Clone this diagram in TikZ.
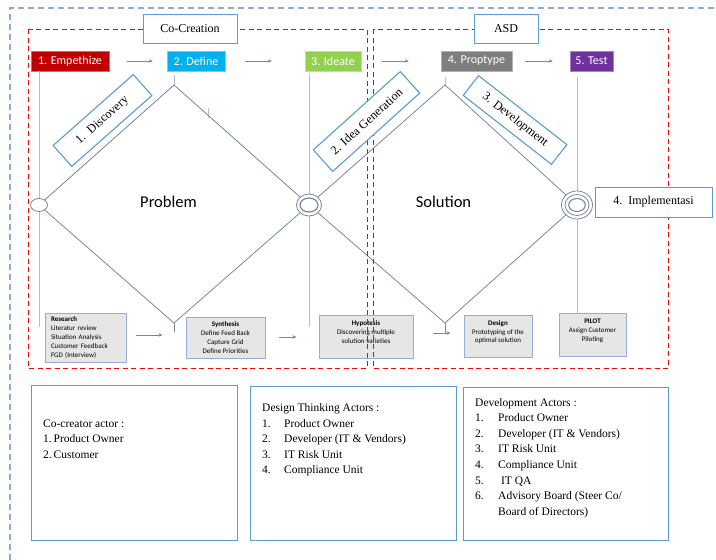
\documentclass[tikz,border=0pt]{standalone}
\usepackage{fontspec}
\setmainfont{Liberation Serif}
\newfontfamily\calfont{Carlito}
\usetikzlibrary{arrows.meta}
\definecolor{boxblue}{HTML}{5B9BD5}
\definecolor{outerblue}{HTML}{8FAADC}
\definecolor{vlinecol}{HTML}{A9C0E4}
\definecolor{dlinecol}{HTML}{7A879E}
\definecolor{arrowblue}{HTML}{5A8AD2}
\definecolor{empred}{HTML}{C00000}
\definecolor{defcyan}{HTML}{00B0F0}
\definecolor{idegreen}{HTML}{92D050}
\definecolor{protgray}{HTML}{7F7F7F}
\definecolor{testpurple}{HTML}{7030A0}
\definecolor{grayfill}{HTML}{E6E6E6}
\definecolor{grayborder}{HTML}{94ADD9}
\begin{document}
\begin{tikzpicture}[x=1pt,y=-1pt,
  phasebox/.style={draw=#1!60!white, fill=#1, text=white, font=\calfont\fontsize{12}{14}\selectfont, inner sep=0pt, minimum height=20pt},
  titlebox/.style={draw=boxblue, fill=white, line width=1pt, inner sep=0pt, minimum height=29pt, font=\fontsize{12}{14}\selectfont},
  rotbox/.style={draw=boxblue, fill=white, line width=1.1pt, inner sep=0pt, font=\fontsize{12.3}{14}\selectfont},
  graybox/.style={draw=grayborder, fill=grayfill, line width=1pt, inner sep=0pt, align=center, font=\calfont\fontsize{7}{8.8}\selectfont},
  actorbox/.style={draw=boxblue, line width=1pt, inner sep=0pt},
  actortext/.style={anchor=base west, inner sep=0pt, align=left, font=\fontsize{11.5}{15.6}\selectfont},
  arr/.style={draw=arrowblue, line width=0.9pt, -{Stealth[length=4pt,width=3.5pt]}},
  vl/.style={draw=vlinecol, line width=0.9pt},
  diam/.style={draw=dlinecol, line width=0.8pt},
  ring/.style={draw=dlinecol, line width=0.8pt, fill=white},
  reddash/.style={draw=red, line width=1pt, dash pattern=on 5pt off 3.5pt},
  outerdash/.style={draw=outerblue, line width=1.4pt, dash pattern=on 6pt off 4pt}
]
\useasboundingbox (0,0) rectangle (716,560);
% outer dashed frame
\coordinate (oa) at (10,560);
\coordinate (ob) at (10,8);
\coordinate (oc) at (716,8);
\draw[outerdash] (oa) -- (ob) -- (oc);

% phase boxes
\node[phasebox=empred, minimum width=78pt] (emp) at (70,61) {1. Empethize};
\node[phasebox=defcyan, minimum width=58pt] (def) at (196,61) {2. Define};
\node[phasebox=idegreen, minimum width=56pt] (ide) at (333,61) {3. Ideate};
\node[phasebox=protgray, minimum width=71pt] (pro) at (476.5,61) {4. Proptype};
\node[phasebox=testpurple, minimum width=43pt] (tst) at (591.5,61) {5. Test};

\draw[arr, shorten <=18pt, shorten >=14pt] (emp.east) -- (def.west);
\draw[arr, shorten <=20pt, shorten >=33pt] (def.east) -- (ide.west);
\draw[arr, shorten <=21pt, shorten >=32pt] (ide.east) -- (pro.west);
\draw[arr, shorten <=13pt, shorten >=17pt] (pro.east) -- (tst.west);

% diamond corners
\coordinate (d1t) at (174,85);
\coordinate (d1b) at (174,323);
\coordinate (d1l) at (39,205);
\coordinate (d1r) at (309,205);
\coordinate (d2t) at (445,85);
\coordinate (d2b) at (445,323);
\coordinate (d2r) at (577,205);
\coordinate (e1) at (39,327);
\coordinate (e2) at (309,327);
\coordinate (t1) at (174,332);
\coordinate (t2) at (445,333);
\coordinate (k1) at (208,108);
\coordinate (k2) at (208,118);

% gray boxes
\node[graybox, text width=69pt, align=left, inner xsep=6pt, minimum height=49pt] (res) at (85.5,337.5)
  {\textbf{Research}\\Literatur review\\Situation Analysis\\Customer Feedback\\FGD (Interview)};
\node[graybox, minimum width=79pt, minimum height=41pt] (syn) at (225.5,337.5)
  {\textbf{Synthesis}\\Define Feed Back\\Capture Grid\\Define Priorities};
\node[graybox, minimum width=94pt, minimum height=43pt] (hyp) at (366,336.5)
  {\textbf{Hypotesis}\\Discovering multiple\\solution varieties\\~};
\node[graybox, minimum width=68pt, minimum height=42pt] (des) at (498,336)
  {\textbf{Design}\\Prototyping of the\\optimal solution\\~};
\node[graybox, minimum width=67pt, minimum height=43pt] (pil) at (592.5,334.5)
  {\textbf{PILOT}\\Assign Customer\\Piloting\\~};

% vertical lines
\draw[vl] (emp.south -| d1l) -- (e1);
\draw[vl] ([yshift=-4pt]def.south -| d1t) -- (d1t);
\draw[vl] ([yshift=-2pt]ide.south -| d1r) -- (e2);
\draw[vl] ([yshift=-6pt]pro.south -| d2t) -- (d2t);
\draw[vl] ([yshift=-6pt]tst.south -| d2r) -- (pil.north -| d2r);
\draw[vl] (k1) -- (k2);

% diamonds
\draw[diam] (d1l) -- (d1t) -- (d1r) -- (d1b) -- cycle;
\draw[diam] (d1r) -- (d2t) -- (d2r) -- (d2b) -- cycle;
\draw[diam] (d1b) -- (t1);
\draw[diam] (d2b) -- (t2);

% rings
\draw[ring] (d1l) ellipse [x radius=8.5, y radius=6.5];
\draw[ring] (d1r) ellipse [x radius=12.5, y radius=11];
\draw[ring, line width=1.2pt] (d1r) ellipse [x radius=9, y radius=7];
\draw[ring] (d2r) ellipse [x radius=15.5, y radius=14];
\draw[ring] (d2r) ellipse [x radius=12, y radius=10.5];
\draw[ring, line width=1.1pt] (d2r) ellipse [x radius=8.3, y radius=6.5];

\node[font=\calfont\fontsize{16.5}{18}\selectfont, inner sep=0pt] (prob) at (168.5,201.5) {Problem};
\node[font=\calfont\fontsize{16.5}{18}\selectfont, inner sep=0pt] (sol) at (443.5,201.5) {Solution};

% gray box arrows
\draw[arr, shorten <=9pt, shorten >=23pt] ([yshift=2.5pt]res.east) -- ([yshift=2.5pt]res.east -| syn.west);
\draw[arr, shorten <=13pt, shorten >=22pt] ([yshift=0.5pt]syn.east) -- ([yshift=0.5pt]syn.east -| hyp.west);
\draw[arr, shorten <=19pt, shorten >=13pt] ([yshift=3.5pt]hyp.east) -- ([yshift=3.5pt]hyp.east -| des.west);

% red dashed frames
\coordinate (r1a) at (28,29);
\coordinate (r1b) at (367,368);
\coordinate (r2a) at (373,29);
\coordinate (r2b) at (668,368);
\draw[reddash] (r1a) rectangle (r1b);
\draw[reddash] (r2a) rectangle (r2b);

% title boxes
\node[titlebox, minimum width=94pt] (cocr) at (190,28.5) {Co-Creation};
\node[titlebox, minimum width=64pt] (asd) at (506,28.5) {ASD};

% rotated labels
\node[rotbox, minimum width=107pt, minimum height=28pt, rotate=41.5] (disc) at (102.5,120.5) {1.\ \ Discovery};
\node[rotbox, minimum width=117pt, minimum height=29pt, rotate=42] (idea) at (366.5,121.5) {2. Idea Generation};
\node[rotbox, minimum width=112pt, minimum height=25pt, rotate=-38] (devl) at (515,120) {3. Development};
\node[titlebox, minimum width=117pt, minimum height=30pt] (impl) at (653.5,202) {4.\ \ Implementasi};

% actor boxes
\node[actorbox, minimum width=206pt, minimum height=155pt] (cc) at (134,462.5) {};
\node[actorbox, minimum width=206pt, minimum height=154pt] (dt) at (353,463) {};
\node[actorbox, minimum width=205pt, minimum height=153pt] (da) at (565.5,463.5) {};

% anchor = baseline of the last line
\node[actortext, font=\fontsize{11.5}{15.8}\selectfont] (cctext) at (43,458.6)
  {Co-creator actor :\\1.\,Product Owner\\2.\,Customer};
\node[actortext] (dttext) at (262,473.9)
  {Design Thinking Actors :\\
   \makebox[22pt][l]{1.}Product Owner\\
   \makebox[22pt][l]{2.}Developer (IT \& Vendors)\\
   \makebox[22pt][l]{3.}IT Risk Unit\\
   \makebox[22pt][l]{4.}Compliance Unit};
\node[actortext] (datext) at (475,515.2)
  {Development Actors :\\
   \makebox[23pt][l]{1.}Product Owner\\
   \makebox[23pt][l]{2.}Developer (IT \& Vendors)\\
   \makebox[23pt][l]{3.}IT Risk Unit\\
   \makebox[23pt][l]{4.}Compliance Unit\\
   \makebox[23pt][l]{5.}\ IT QA\\
   \makebox[23pt][l]{6.}Advisory Board (Steer Co/\\
   \makebox[23pt][l]{}Board of Directors)};
\end{tikzpicture}
\end{document}
